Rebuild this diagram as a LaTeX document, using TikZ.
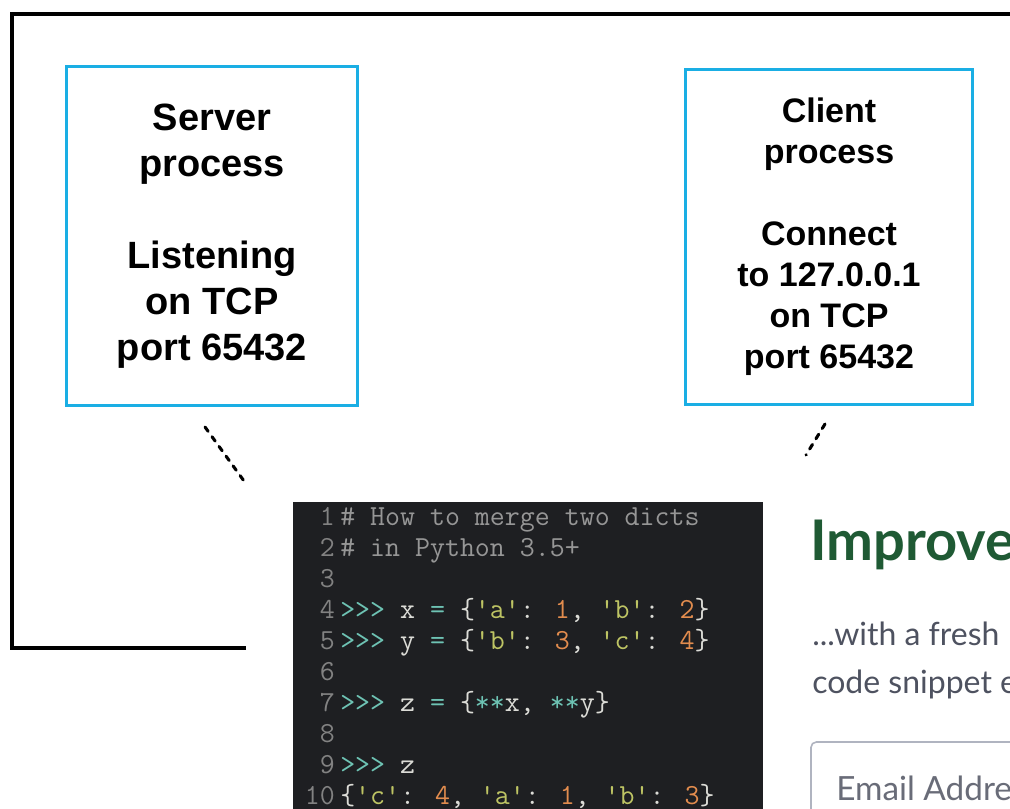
\documentclass[tikz,border=0pt]{standalone}
\usepackage{fontspec}
\newfontfamily\boxfont{Liberation Sans}
\newcommand\codefont{\ttfamily}
\newfontfamily\webfont{Lato}
\definecolor{procblue}{RGB}{26,174,228}
\definecolor{codebg}{RGB}{30,31,34}
\definecolor{codetext}{RGB}{220,220,215}
\definecolor{codegray}{RGB}{150,150,150}
\definecolor{codenum}{RGB}{130,130,130}
\definecolor{codeteal}{RGB}{110,195,180}
\definecolor{codestr}{RGB}{190,196,100}
\definecolor{codenumlit}{RGB}{226,140,78}
\definecolor{webgreen}{RGB}{31,90,52}
\definecolor{webgray}{RGB}{78,82,96}
\definecolor{inputborder}{RGB}{176,180,192}
\newcommand\ct[1]{\textcolor{codeteal}{#1}}
\newcommand\cs[1]{\textcolor{codestr}{#1}}
\newcommand\cn[1]{\textcolor{codenumlit}{#1}}
\begin{document}
\begin{tikzpicture}[x=0.75pt,y=-0.75pt,
  procbox/.style={draw=procblue,line width=2.4pt,minimum width=291*0.75pt,
    align=center,text=black,inner sep=0pt},
  dotline/.style={line width=2.3pt,dash pattern=on 4pt off 5pt,line cap=round},
  codeline/.style={anchor=base west,inner sep=0pt,text=codetext,
    font=\codefont\fontsize{21.8}{26}\selectfont},
  linenum/.style={anchor=base east,inner sep=0pt,text=codenum,
    font=\codefont\fontsize{21.8}{26}\selectfont},
  webtext/.style={anchor=base west,inner sep=0pt,text=webgray,
    font=\webfont\fontsize{24}{29}\selectfont}]
\useasboundingbox (0,0) rectangle (1010,809);
\clip (0,0) rectangle (1010,809);
\fill[white] (0,0) rectangle (1010,809);

% outer frame
\coordinate (fa) at (246,648);
\coordinate (fb) at (12,648);
\coordinate (fc) at (12,14);
\coordinate (fd) at (1020,14);
\draw[line width=2.3pt,line join=miter] (fa) -- (fb) -- (fc) -- (fd);

% process boxes
\node[procbox,minimum height=339*0.75pt,
  font=\boxfont\bfseries\fontsize{28.5}{34.5}\selectfont] (server) at (212,236)
  {Server\\process\\[34.5pt]Listening\\on TCP\\port 65432};
\node[procbox,minimum width=287*0.75pt,minimum height=335*0.75pt,
  font=\boxfont\bfseries\fontsize{25.5}{30.75}\selectfont] (client) at (829,237)
  {Client\\process\\[30.75pt]Connect\\to 127.0.0.1\\on TCP\\port 65432};

% dotted leaders
\coordinate (ls) at (205,427);
\coordinate (le) at (244,481);
\coordinate (rs) at (825,424);
\coordinate (re) at (806,455);
\draw[dotline] (ls) -- (le);
\draw[dotline] (rs) -- (re);

% code panel
\fill[codebg] (293,502) rectangle (763,815);
\foreach \n [count=\i from 0] in {1,...,10}
  \node[linenum] (ln\n) at (335,{525+31.1*\i}) {\n};
\node[codeline,text=codegray] (c1) at (340,525) {\# How to merge two dicts};
\node[codeline,text=codegray] (c2) at (340,556.1) {\# in Python 3.5+};
\node[codeline] (c4) at (340,618.3) {\ct{>>>} x \ct{=} \{\cs{'a'}: \cn{1}, \cs{'b'}: \cn{2}\}};
\node[codeline] (c5) at (340,649.4) {\ct{>>>} y \ct{=} \{\cs{'b'}: \cn{3}, \cs{'c'}: \cn{4}\}};
\node[codeline] (c7) at (340,711.6) {\ct{>>>} z \ct{=} \{\ct{**}x, \ct{**}y\}};
\node[codeline] (c9) at (340,773.8) {\ct{>>>} z};
\node[codeline] (c10) at (340,804.9) {\{\cs{'c'}: \cn{4}, \cs{'a'}: \cn{1}, \cs{'b'}: \cn{3}\}};

% web page fragment
\node[anchor=base west,inner sep=0pt,text=webgreen,
  font=\webfont\bfseries\fontsize{42}{50}\selectfont] (improve) at (810,560) {Improve};
\node[webtext] (fresh) at (812,645) {...with a fresh};
\node[webtext] (snippet) at (812,693) {code snippet e};
\draw[inputborder,line width=1.2pt,rounded corners=4pt] (811,830) -- (811,742) -- (1030,742);
\node[webtext,text=webgray!85,font=\webfont\fontsize{25}{30}\selectfont] (email) at (836,800) {Email Addre};
\end{tikzpicture}
\end{document}
